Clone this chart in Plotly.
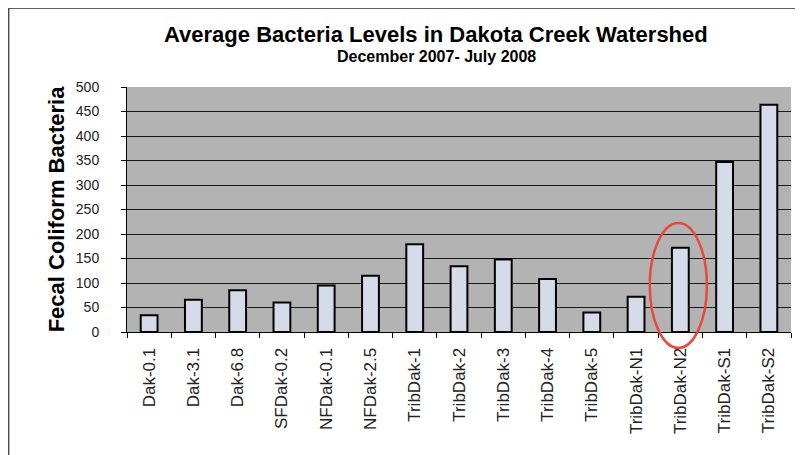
import plotly.graph_objects as go

sites = ["Dak-0.1", "Dak-3.1", "Dak-6.8", "SFDak-0.2", "NFDak-0.1", "NFDak-2.5",
         "TribDak-1", "TribDak-2", "TribDak-3", "TribDak-4", "TribDak-5",
         "TribDak-N1", "TribDak-N2", "TribDak-S1", "TribDak-S2"]
bacteria = [34, 66, 85, 60, 95, 115, 179, 134, 148, 108, 40, 72, 172, 347, 464]
y_ticks = [0, 50, 100, 150, 200, 250, 300, 350, 400, 450, 500]
highlight = "TribDak-N2"

font = "Liberation Sans, Arial, sans-serif"

fig = go.Figure(go.Bar(
    x=sites, y=bacteria,
    marker=dict(color="#d5dbe9", line=dict(color="#000000", width=2)),
    width=0.38,
))

hi = sites.index(highlight)

fig.update_layout(
    width=803, height=455,
    margin=dict(l=119, r=20, t=79, b=131),
    paper_bgcolor="white",
    plot_bgcolor="#b3b3b3",
    showlegend=False,
    font=dict(family=font, color="#222222"),
    xaxis=dict(
        type="category", tickangle=-90, tickfont=dict(size=17, color="#222222"),
        showline=True, linecolor="#000000", linewidth=1,
        ticks="outside", tickson="boundaries", ticklen=5, tickcolor="#000000",
        showgrid=False, ticklabelstandoff=8,
    ),
    yaxis=dict(
        range=[0, 500], tickvals=y_ticks, tickfont=dict(size=14, color="#222222"),
        showline=True, linecolor="#000000", linewidth=1,
        ticks="outside", ticklen=5, tickcolor="#000000",
        showgrid=True, gridcolor="#1a1a1a", gridwidth=1,
        zeroline=False, ticklabelstandoff=19,
        title=dict(text="<b>Fecal Coliform Bacteria</b>", font=dict(size=22, color="#000000"),
                   standoff=5),
    ),
    annotations=[
        dict(text="<b>Average Bacteria Levels in Dakota Creek Watershed</b>",
             xref="paper", yref="paper", x=0.466, y=1.215, xanchor="center", yanchor="middle",
             showarrow=False, font=dict(size=22, color="#000000")),
        dict(text="<b>December 2007- July 2008</b>",
             xref="paper", yref="paper", x=0.466, y=1.125, xanchor="center", yanchor="middle",
             showarrow=False, font=dict(size=16, color="#000000")),
    ],
    shapes=[
        dict(type="rect", xref="paper", yref="paper", x0=-0.178, x1=1.009, y0=-0.6, y1=1.322,
             line=dict(color="#000000", width=1), fillcolor="rgba(0,0,0,0)", layer="below"),
        dict(type="circle", xref="x", yref="paper", x0=hi - 0.69, x1=hi + 0.6,
             y0=-0.065, y1=0.445, line=dict(color="#e8493c", width=2.5)),
    ],
)

fig.write_html("out.html")
